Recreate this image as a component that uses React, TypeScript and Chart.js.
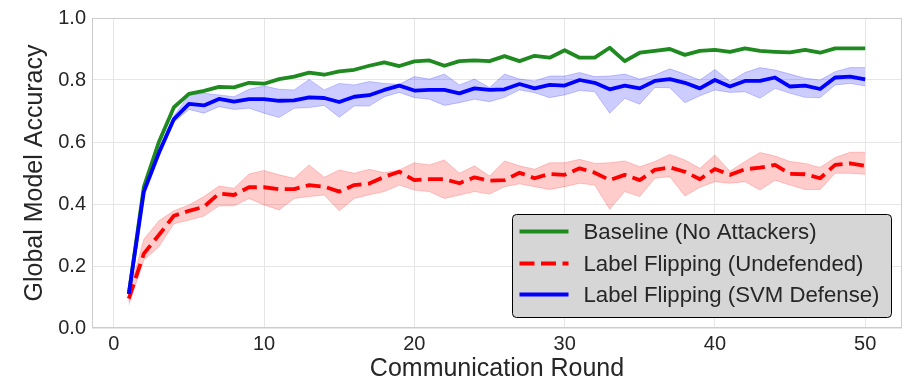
import React, { useEffect, useRef } from 'react';
import { Chart, registerables } from 'chart.js';

Chart.register(...registerables);

const rounds = [1,2,3,4,5,6,7,8,9,10,11,12,13,14,15,16,17,18,19,20,21,22,23,24,25,26,27,28,29,30,31,32,33,34,35,36,37,38,39,40,41,42,43,44,45,46,47,48,49,50];

const baseline = [0.11,0.455,0.60,0.712,0.755,0.765,0.778,0.776,0.791,0.788,0.803,0.811,0.824,0.817,0.828,0.833,0.846,0.857,0.845,0.860,0.863,0.846,0.861,0.863,0.861,0.877,0.861,0.878,0.872,0.896,0.872,0.872,0.904,0.861,0.888,0.894,0.900,0.881,0.894,0.897,0.891,0.902,0.894,0.891,0.889,0.897,0.888,0.902,0.902,0.902];

const svmMean = [0.11,0.44,0.565,0.674,0.723,0.718,0.739,0.730,0.738,0.738,0.733,0.734,0.744,0.742,0.729,0.746,0.751,0.768,0.782,0.766,0.768,0.768,0.757,0.773,0.768,0.770,0.787,0.773,0.784,0.782,0.800,0.791,0.770,0.782,0.773,0.797,0.803,0.791,0.773,0.800,0.779,0.797,0.797,0.808,0.779,0.782,0.771,0.808,0.811,0.802];
const svmUpper = [0.12,0.455,0.58,0.684,0.752,0.757,0.752,0.746,0.770,0.781,0.770,0.768,0.802,0.768,0.789,0.784,0.795,0.789,0.786,0.811,0.803,0.819,0.784,0.803,0.776,0.819,0.803,0.797,0.813,0.813,0.824,0.811,0.813,0.819,0.803,0.816,0.836,0.819,0.800,0.834,0.795,0.824,0.840,0.832,0.819,0.806,0.800,0.827,0.840,0.840];
const svmLower = [0.085,0.425,0.55,0.664,0.705,0.693,0.714,0.705,0.709,0.693,0.679,0.709,0.711,0.718,0.680,0.716,0.716,0.746,0.760,0.743,0.738,0.718,0.727,0.738,0.730,0.744,0.768,0.759,0.743,0.752,0.766,0.762,0.693,0.741,0.722,0.776,0.775,0.727,0.749,0.768,0.760,0.762,0.741,0.773,0.757,0.744,0.743,0.784,0.789,0.781];

const flipMean = [0.095,0.24,0.30,0.362,0.378,0.391,0.434,0.429,0.454,0.454,0.448,0.448,0.461,0.456,0.440,0.461,0.466,0.488,0.504,0.477,0.480,0.480,0.467,0.486,0.475,0.477,0.501,0.483,0.497,0.494,0.515,0.501,0.477,0.494,0.477,0.510,0.518,0.504,0.480,0.513,0.494,0.512,0.517,0.526,0.497,0.496,0.483,0.526,0.531,0.523];
const flipUpper = [0.11,0.286,0.346,0.378,0.397,0.424,0.458,0.451,0.497,0.508,0.494,0.483,0.526,0.486,0.510,0.499,0.512,0.501,0.510,0.533,0.526,0.542,0.499,0.523,0.490,0.539,0.523,0.512,0.533,0.533,0.544,0.531,0.533,0.539,0.520,0.537,0.560,0.542,0.515,0.558,0.506,0.537,0.566,0.555,0.537,0.531,0.518,0.550,0.567,0.567];
const flipLower = [0.075,0.219,0.262,0.336,0.348,0.361,0.394,0.394,0.418,0.397,0.381,0.418,0.424,0.429,0.378,0.418,0.430,0.440,0.461,0.445,0.440,0.418,0.429,0.440,0.432,0.456,0.465,0.456,0.447,0.456,0.467,0.461,0.383,0.440,0.424,0.483,0.488,0.426,0.454,0.472,0.467,0.472,0.445,0.477,0.461,0.447,0.447,0.499,0.499,0.496];

const xTicks = [0, 10, 20, 30, 40, 50];
const yTicks = [0, 0.2, 0.4, 0.6, 0.8, 1.0];

const seriesLabels = ['Baseline (No Attackers)', 'Label Flipping (Undefended)', 'Label Flipping (SVM Defense)'];

const FONT = "'Liberation Sans', Arial, Helvetica, sans-serif";
const TEXT = '#262626';
const GREEN = '#1f8a1f';
const RED = '#ff0000';
const BLUE = '#0000ff';

const pts = (vals: number[]) => vals.map((v, i) => ({ x: rounds[i], y: v }));

const legendItems = [
  { label: seriesLabels[0], color: GREEN, dash: [] as number[] },
  { label: seriesLabels[1], color: RED, dash: [15, 6.5] },
  { label: seriesLabels[2], color: BLUE, dash: [] as number[] },
];

const framePlugin = {
  id: 'frameAndLegend',
  afterDraw(chart: any) {
    const ctx = chart.ctx as CanvasRenderingContext2D;
    const { left, right, top, bottom } = chart.chartArea;
    ctx.save();
    ctx.strokeStyle = '#cccccc';
    ctx.lineWidth = 1;
    ctx.strokeRect(Math.round(left) + 0.5, Math.round(top) + 0.5, Math.round(right - left) - 1, Math.round(bottom - top) - 1);

    const bw = 379;
    const bh = 103;
    const bx = Math.round(right) - 11 - bw + 0.5;
    const by = Math.round(bottom) - 11 - bh + 0.5;
    ctx.beginPath();
    if ((ctx as any).roundRect) {
      (ctx as any).roundRect(bx, by, bw, bh, 4);
    } else {
      ctx.rect(bx, by, bw, bh);
    }
    ctx.fillStyle = 'rgb(214,214,214)';
    ctx.fill();
    ctx.strokeStyle = '#000000';
    ctx.lineWidth = 1;
    ctx.stroke();

    const rowY = [17, 49, 80];
    legendItems.forEach((it, i) => {
      const y = by + rowY[i];
      ctx.beginPath();
      ctx.setLineDash(it.dash);
      ctx.strokeStyle = it.color;
      ctx.lineWidth = 4;
      ctx.lineCap = 'butt';
      ctx.moveTo(bx + 7, y);
      ctx.lineTo(bx + 56, y);
      ctx.stroke();
      ctx.setLineDash([]);
      ctx.fillStyle = TEXT;
      ctx.font = `22.2px ${FONT}`;
      ctx.textBaseline = 'middle';
      ctx.textAlign = 'left';
      ctx.fillText(it.label, bx + 71, y + 1);
    });
    ctx.restore();
  },
};

export default function App() {
  const ref = useRef<HTMLCanvasElement | null>(null);

  useEffect(() => {
    if (!ref.current) return;
    const chart = new Chart(ref.current, {
      type: 'line',
      data: {
        datasets: [
          {
            label: 'svm-upper',
            data: pts(svmUpper),
            borderColor: 'rgba(0,0,255,0.2)',
            backgroundColor: 'rgba(0,0,255,0.2)',
            borderWidth: 1,
            pointRadius: 0,
            fill: '+1',
            order: 10,
          },
          {
            label: 'svm-lower',
            data: pts(svmLower),
            borderColor: 'rgba(0,0,255,0.2)',
            borderWidth: 1,
            pointRadius: 0,
            fill: false,
            order: 10,
          },
          {
            label: 'flip-upper',
            data: pts(flipUpper),
            borderColor: 'rgba(255,0,0,0.2)',
            backgroundColor: 'rgba(255,0,0,0.2)',
            borderWidth: 1,
            pointRadius: 0,
            fill: '+1',
            order: 10,
          },
          {
            label: 'flip-lower',
            data: pts(flipLower),
            borderColor: 'rgba(255,0,0,0.2)',
            borderWidth: 1,
            pointRadius: 0,
            fill: false,
            order: 10,
          },
          {
            label: seriesLabels[0],
            data: pts(baseline),
            borderColor: GREEN,
            borderWidth: 3.8,
            pointRadius: 0,
            fill: false,
            order: 3,
          },
          {
            label: seriesLabels[1],
            data: pts(flipMean),
            borderColor: RED,
            borderWidth: 3.8,
            borderDash: [15, 6.5],
            pointRadius: 0,
            fill: false,
            order: 2,
          },
          {
            label: seriesLabels[2],
            data: pts(svmMean),
            borderColor: BLUE,
            borderWidth: 3.8,
            pointRadius: 0,
            fill: false,
            order: 1,
          },
        ],
      },
      options: {
        animation: false,
        responsive: false,
        devicePixelRatio: 1,
        layout: { padding: { top: 18, right: 16, left: 0, bottom: 0 } },
        plugins: {
          legend: { display: false },
          tooltip: { enabled: false },
        },
        elements: { line: { tension: 0, borderJoinStyle: 'round' } },
        scales: {
          x: {
            type: 'linear',
            min: -1.45,
            max: 52.45,
            afterBuildTicks: (axis: any) => {
              axis.ticks = xTicks.map((v) => ({ value: v }));
            },
            afterFit: (s: any) => {
              s.height = 54;
            },
            grid: { color: '#e6e6e6', lineWidth: 1, drawTicks: false },
            border: { display: false },
            ticks: {
              padding: 4,
              color: TEXT,
              font: { family: FONT, size: 20 },
              callback: (v: any) => String(v),
              maxRotation: 0,
            },
            title: {
              display: true,
              text: 'Communication Round',
              color: TEXT,
              font: { family: FONT, size: 25, lineHeight: 1 },
              padding: { top: 0, bottom: 0 },
            },
          },
          y: {
            type: 'linear',
            min: 0,
            max: 1,
            afterBuildTicks: (axis: any) => {
              axis.ticks = yTicks.map((v) => ({ value: v }));
            },
            afterFit: (s: any) => {
              s.width = 92;
            },
            grid: { color: '#e6e6e6', lineWidth: 1, drawTicks: false },
            border: { display: false },
            ticks: {
              padding: 6,
              color: TEXT,
              font: { family: FONT, size: 20 },
              callback: (v: any) => Number(v).toFixed(1),
            },
            title: {
              display: true,
              text: 'Global Model Accuracy',
              color: TEXT,
              font: { family: FONT, size: 25, lineHeight: 1 },
              padding: { top: 23, bottom: 0 },
            },
          },
        },
      },
      plugins: [framePlugin],
    } as any);
    return () => chart.destroy();
  }, []);

  return (
    <div style={{ position: 'fixed', left: 0, top: 0, width: 918, height: 382, background: '#ffffff' }}>
      <canvas ref={ref} width={918} height={382} style={{ display: 'block', width: 918, height: 382 }} />
    </div>
  );
}
